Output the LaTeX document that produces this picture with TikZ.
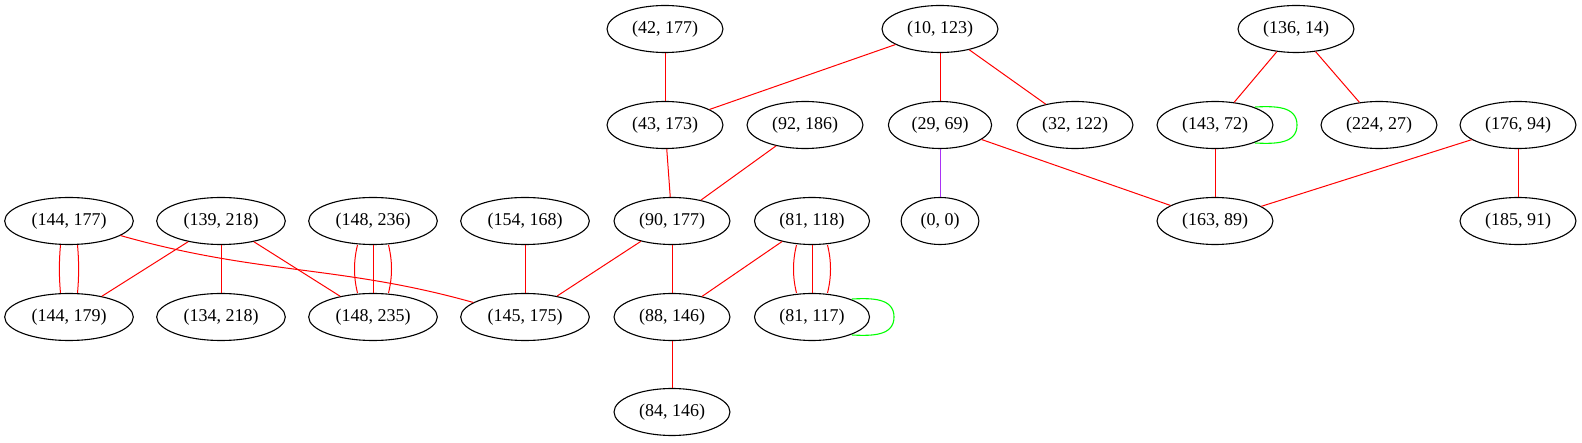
\documentclass[tikz,border=0pt]{standalone}
\usepackage{fontspec}
\setmainfont{Liberation Serif}
\usetikzlibrary{shapes.geometric}
\definecolor{gvpurple}{RGB}{170,50,245}
\definecolor{gvgreen}{RGB}{0,255,0}
\tikzset{
  gnode/.style={draw=black, line width=1.1pt, ellipse, inner xsep=8pt, inner ysep=3pt,
    minimum height=47pt, font=\fontsize{18pt}{20pt}\selectfont},
  redge/.style={draw=red, line width=1pt},
  pedge/.style={draw=gvpurple, line width=1pt},
  gedge/.style={draw=gvgreen, line width=1.1pt},
}
\begin{document}
\begin{tikzpicture}[x=1pt,y=-1pt]
\useasboundingbox (0,0) rectangle (1582,443);
% row 1
\node[gnode] (n42177) at (665,29) {(42, 177)};
\node[gnode] (n10123) at (940,29) {(10, 123)};
\node[gnode] (n13614) at (1296,29) {(136, 14)};
% row 2
\node[gnode] (n43173) at (665,125) {(43, 173)};
\node[gnode] (n92186) at (805,125) {(92, 186)};
\node[gnode] (n2969) at (940,125) {(29, 69)};
\node[gnode] (n32122) at (1075,125) {(32, 122)};
\node[gnode] (n14372) at (1215,125) {(143, 72)};
\node[gnode] (n22427) at (1379,125) {(224, 27)};
\node[gnode] (n17694) at (1518,125) {(176, 94)};
% row 3
\node[gnode] (n144177) at (69,221) {(144, 177)};
\node[gnode] (n139218) at (221,221) {(139, 218)};
\node[gnode] (n148236) at (373,221) {(148, 236)};
\node[gnode] (n154168) at (525,221) {(154, 168)};
\node[gnode] (n90177) at (672,221) {(90, 177)};
\node[gnode] (n81118) at (812,221) {(81, 118)};
\node[gnode] (n00) at (940,221) {(0, 0)};
\node[gnode] (n16389) at (1215,221) {(163, 89)};
\node[gnode] (n18591) at (1518,221) {(185, 91)};
% row 4
\node[gnode] (n144179) at (69,317) {(144, 179)};
\node[gnode] (n134218) at (221,317) {(134, 218)};
\node[gnode] (n148235) at (373,317) {(148, 235)};
\node[gnode] (n145175) at (525,317) {(145, 175)};
\node[gnode] (n88146) at (672,317) {(88, 146)};
\node[gnode] (n81117) at (812,317) {(81, 117)};
% row 5
\node[gnode] (n84146) at (672,412) {(84, 146)};

% edges
\draw[redge] (n42177) -- (n43173);
\draw[redge] (n10123) -- (n43173);
\draw[redge] (n10123) -- (n2969);
\draw[redge] (n10123) -- (n32122);
\draw[redge] (n13614) -- (n14372);
\draw[redge] (n13614) -- (n22427);
\draw[redge] (n14372) -- (n16389);
\draw[redge] (n2969) -- (n16389);
\draw[redge] (n17694) -- (n16389);
\draw[redge] (n17694) -- (n18591);
\draw[pedge] (n2969) -- (n00);
\draw[redge] (n43173) -- (n90177);
\draw[redge] (n92186) -- (n90177);
\draw[redge] (n90177) -- (n145175);
\draw[redge] (n90177) -- (n88146);
\draw[redge] (n154168) -- (n145175);
\draw[redge] (n144177) .. controls (260,275) and (340,265) .. (n145175);
\draw[redge] (n139218) -- (n144179);
\draw[redge] (n139218) -- (n134218);
\draw[redge] (n139218) -- (n148235);
\draw[redge] (n81118) -- (n88146);
\draw[redge] (n88146) -- (n84146);
% double edge
\draw[redge] ([xshift=-8.5pt]n144177.south) .. controls +(-1.5,16) and +(-1.5,-16) .. ([xshift=-8.5pt]n144179.north);
\draw[redge] ([xshift=8.5pt]n144177.south) .. controls +(1.5,16) and +(1.5,-16) .. ([xshift=8.5pt]n144179.north);
% triple edges
\draw[redge] ([xshift=-15.5pt]n148236.south) .. controls +(-4,16) and +(-4,-16) .. ([xshift=-15.5pt]n148235.north);
\draw[redge] (n148236) -- (n148235);
\draw[redge] ([xshift=15.5pt]n148236.south) .. controls +(4,16) and +(4,-16) .. ([xshift=15.5pt]n148235.north);
\draw[redge] ([xshift=-15.5pt]n81118.south) .. controls +(-4,16) and +(-4,-16) .. ([xshift=-15.5pt]n81117.north);
\draw[redge] (n81118) -- (n81117);
\draw[redge] ([xshift=15.5pt]n81118.south) .. controls +(4,16) and +(4,-16) .. ([xshift=15.5pt]n81117.north);
% self loops
\draw[gedge] ([shift={(40,-18)}]n14372.center) .. controls +(20,-1) and +(0,-19) .. ([shift={(82,0)}]n14372.center) .. controls +(0,19) and +(20,1) .. ([shift={(40,18)}]n14372.center);
\draw[gedge] ([shift={(40,-18)}]n81117.center) .. controls +(20,-1) and +(0,-19) .. ([shift={(82,0)}]n81117.center) .. controls +(0,19) and +(20,1) .. ([shift={(40,18)}]n81117.center);
\end{tikzpicture}
\end{document}
